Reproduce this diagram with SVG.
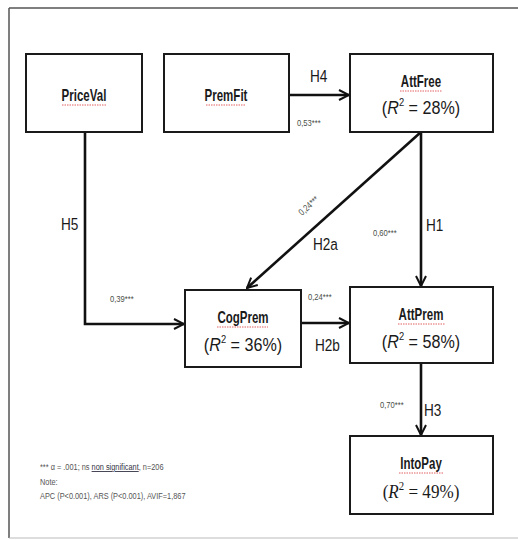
<svg xmlns="http://www.w3.org/2000/svg" width="518" height="540" viewBox="0 0 518 540">
<defs>
<style>
.box{fill:#fff;stroke:#1a1a1a;stroke-width:2}
.name{font-family:"Liberation Sans",Arial,sans-serif;font-weight:bold;font-size:16px;fill:#1a1a1a;text-anchor:middle}
.r2{font-family:"Liberation Sans",Arial,sans-serif;font-size:19px;fill:#1a1a1a;text-anchor:middle}
.r2s{font-family:"Liberation Serif","Times New Roman",serif;font-size:19px;fill:#1a1a1a;text-anchor:middle}
.sq{stroke:#e06060;stroke-width:1;stroke-dasharray:1.5 1;fill:none}
.edge{stroke:#111;stroke-width:2.6;fill:none}
.h{font-family:"Liberation Sans",Arial,sans-serif;font-size:17px;fill:#1a1a1a}
.c{font-family:"Liberation Sans",Arial,sans-serif;font-size:9.5px;fill:#4a4f48}
.note{font-family:"Liberation Sans",Arial,sans-serif;font-size:9px;fill:#555}
</style>
<marker id="arr" viewBox="0 0 12 12" refX="11" refY="6" markerWidth="12" markerHeight="12" markerUnits="userSpaceOnUse" orient="auto">
<path d="M1,1 L11,6 L1,11" fill="none" stroke="#111" stroke-width="2"/>
</marker>
</defs>
<rect width="518" height="540" fill="#fff"/>
<path d="M9,8 H518" stroke="#555" stroke-width="1.5" fill="none"/>
<path d="M9,8 V538" stroke="#555" stroke-width="1.5" fill="none"/>
<path d="M9,538 H518" stroke="#bbb" stroke-width="1" fill="none"/>

<g id="connectors">
<path class="edge" d="M289,95 H349" marker-end="url(#arr)"/>
<path class="edge" d="M85,132 V324 H184" marker-end="url(#arr)"/>
<path class="edge" d="M421,132 L247,288" marker-end="url(#arr)"/>
<path class="edge" d="M421,132 V286" marker-end="url(#arr)"/>
<path class="edge" d="M301,323 H349" marker-end="url(#arr)"/>
<path class="edge" d="M421,364 V435" marker-end="url(#arr)"/>
<text class="h" transform="translate(310,82) scale(0.8,1)">H4</text>
<text class="c" transform="translate(297,126) scale(0.8,1)">0,53***</text>
<text class="h" transform="translate(61,230) scale(0.8,1)">H5</text>
<text class="c" transform="translate(110,302) scale(0.8,1)">0,39***</text>
<text class="c" transform="translate(302,216) rotate(-42) scale(0.8,1)">0,24***</text>
<text class="h" transform="translate(313,250) scale(0.8,1)">H2a</text>
<text class="c" transform="translate(373,236) scale(0.8,1)">0,60***</text>
<text class="h" transform="translate(426,231) scale(0.8,1)">H1</text>
<text class="c" transform="translate(308,300) scale(0.8,1)">0,24***</text>
<text class="h" transform="translate(315,351) scale(0.8,1)">H2b</text>
<text class="c" transform="translate(380,408) scale(0.8,1)">0,70***</text>
<text class="h" transform="translate(424,416) scale(0.8,1)">H3</text>
</g>

<g id="PriceVal">
<rect class="box" x="26" y="54" width="116" height="78"/>
<text class="name" transform="translate(84,101) scale(0.72,1)">PriceVal</text>
<path class="sq" d="M62,105 H107"/>
</g>
<g id="PremFit">
<rect class="box" x="164" y="54" width="125" height="78"/>
<text class="name" transform="translate(226,101) scale(0.72,1)">PremFit</text>
<path class="sq" d="M206,105 H246"/>
</g>
<g id="AttFree">
<rect class="box" x="350" y="54" width="143" height="78"/>
<text class="name" transform="translate(421,87) scale(0.72,1)">AttFree</text>
<path class="sq" d="M400,91 H442"/>
<text class="r2" transform="translate(421,114) scale(0.85,1)">(<tspan font-style="italic">R</tspan><tspan dy="-8" font-size="11">2</tspan><tspan dy="8"> = 28%)</tspan></text>
</g>
<g id="CogPrem">
<rect class="box" x="185" y="290" width="116" height="77"/>
<text class="name" transform="translate(243,323) scale(0.72,1)">CogPrem</text>
<path class="sq" d="M217,327 H268"/>
<text class="r2" transform="translate(243,351) scale(0.85,1)">(<tspan font-style="italic">R</tspan><tspan dy="-8" font-size="11">2</tspan><tspan dy="8"> = 36%)</tspan></text>
</g>
<g id="AttPrem">
<rect class="box" x="350" y="287" width="143" height="76"/>
<text class="name" transform="translate(421,320) scale(0.72,1)">AttPrem</text>
<path class="sq" d="M398,324 H445"/>
<text class="r2" transform="translate(421,348) scale(0.85,1)">(<tspan font-style="italic">R</tspan><tspan dy="-8" font-size="11">2</tspan><tspan dy="8"> = 58%)</tspan></text>
</g>
<g id="IntoPay">
<rect class="box" x="350" y="436" width="143" height="78"/>
<text class="name" transform="translate(421,469) scale(0.72,1)">IntoPay</text>
<path class="sq" d="M399,473 H443"/>
<text class="r2s" transform="translate(421,498) scale(0.9,1)">(<tspan font-style="italic">R</tspan><tspan dy="-8" font-size="12">2</tspan><tspan dy="8"> = 49%)</tspan></text>
</g>

<g id="note">
<text class="note" transform="translate(40,470) scale(0.82,1)">*** α = .001; ns <tspan text-decoration="underline" fill="#334">non significant</tspan>, n=206</text>
<text class="note" transform="translate(40,485) scale(0.82,1)">Note:</text>
<text class="note" transform="translate(40,499) scale(0.82,1)">APC (P&lt;0.001), ARS (P&lt;0.001), AVIF=1,867</text>
</g>
</svg>
